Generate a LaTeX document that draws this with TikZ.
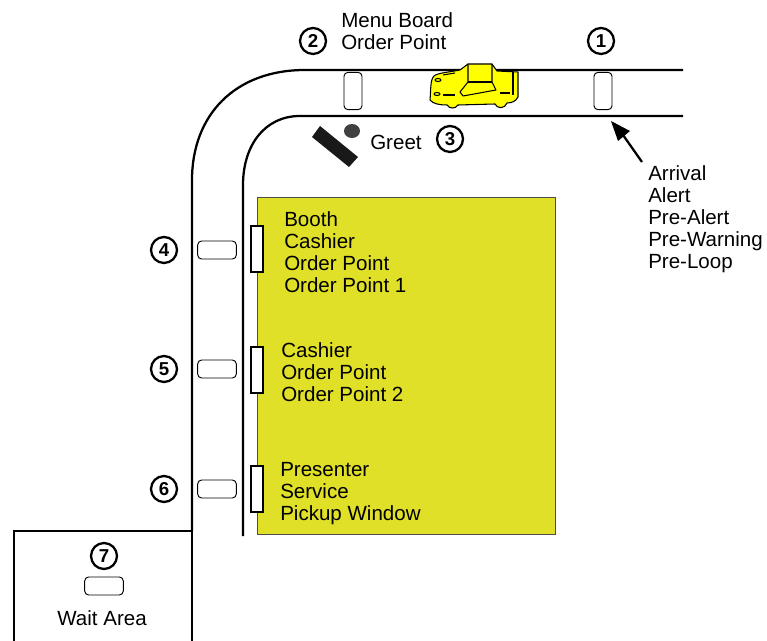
\documentclass[tikz,border=0pt]{standalone}
\usepackage{fontspec}
\setmainfont{Liberation Sans}
\definecolor{booth}{RGB}{224,224,40}
\definecolor{caryellow}{RGB}{255,255,0}
\tikzset{
  x=0.75pt,y=-0.75pt,
  road/.style={line width=1.7pt,black},
  loopv/.style={draw=black,line width=0.7pt,fill=white,rounded corners=3pt,minimum width=13.5pt,minimum height=28pt,inner sep=0pt},
  looph/.style={draw=black,line width=0.7pt,fill=white,rounded corners=3pt,minimum width=29pt,minimum height=13.5pt,inner sep=0pt},
  window/.style={draw=black,line width=1.6pt,fill=white,minimum width=9.5pt,minimum height=35pt,inner sep=0pt},
  num/.style={circle,draw=black,line width=1.7pt,fill=white,minimum size=19.5pt,inner sep=0pt,font=\fontsize{14}{14}\selectfont\bfseries},
  lab/.style={anchor=north west,inner sep=0pt,align=left,font=\fontsize{15.4}{16.5}\selectfont},
  labc/.style={inner sep=0pt,font=\fontsize{15.4}{16.5}\selectfont},
  carline/.style={line width=0.8pt,draw=black,line join=round}
}
\begin{document}
\begin{tikzpicture}
\useasboundingbox (0,0) rectangle (767,641);
\fill[white] (0,0) rectangle (767,641);
% booth
\node[draw=black!70,line width=0.5pt,fill=booth,minimum width=223.5pt,minimum height=253pt,inner sep=0pt,anchor=north west] (booth) at (257,197) {};
% roads
\coordinate (outerstart) at (683,70);
\coordinate (outerend) at (192,531);
\coordinate (innerstart) at (683,116);
\coordinate (innerend) at (243,536);
\draw[road] (outerstart) -- (305,70) .. controls (235,70) and (192,115) .. (192,180) -- (outerend);
\draw[road] (innerstart) -- (300,116) .. controls (265,116) and (243,145) .. (243,185) -- (innerend);
% wait box
\draw[road] (14,641) -- (14,531) -- (192,531) -- (192,641);
% loops
\node[loopv] (l1) at (603,91) {};
\node[loopv] (l2) at (353,91) {};
\node[looph] (l4) at (217,250) {};
\node[looph] (l5) at (217,369) {};
\node[looph] (l6) at (217,489) {};
\node[looph] (l7) at (104,586) {};
% windows
\node[window] (w4) at (257,249) {};
\node[window] (w5) at (257,370) {};
\node[window] (w6) at (257,489) {};
% numbers
\node[num] (n1) at (601,41) {1};
\node[num] (n2) at (313,41) {2};
\node[num] (n3) at (450,139) {3};
\node[num] (n4) at (164,250) {4};
\node[num] (n5) at (164,369) {5};
\node[num] (n6) at (164,489) {6};
\node[num] (n7) at (104,556) {7};
% greet
\fill[black!90] (312,137) -- (320,126) -- (358,157) -- (349,167) -- cycle;
\fill[black!75] (352,131) ellipse (8 and 7);
\node[labc,anchor=west] (greet) at (370,142) {Greet};
% labels
\node[lab] (menu) at (341,12) {Menu Board\\Order Point};
\node[lab] (arr) at (648,165) {Arrival\\Alert\\Pre-Alert\\Pre-Warning\\Pre-Loop};
\node[lab] (b4) at (284,211) {Booth\\Cashier\\Order Point\\Order Point 1};
\node[lab] (b5) at (281,342) {Cashier\\Order Point\\Order Point 2};
\node[lab] (b6) at (280,462) {Presenter\\Service\\Pickup Window};
\node[labc] (wait) at (102,618) {Wait Area};
% arrow
\coordinate (arrowtail) at (642,162);
\coordinate (arrowhead) at (611,121);
\fill[black] (arrowhead) -- (630,131) -- (618,141) -- cycle;
\draw[line width=1.7pt] (arrowtail) -- (623,135);
% car
\filldraw[fill=caryellow,carline] (430,100) .. controls (431,90) and (430,80) .. (434,76)
 .. controls (437,73) and (450,72) .. (460,70) -- (468,64) -- (492,64) -- (497,71) -- (518,72) -- (518,97)
 .. controls (516,101) and (512,103) .. (507,103)
 .. controls (505,109) and (497,109) .. (495,104) -- (458,105)
 .. controls (456,109) and (449,109) .. (447,105) .. controls (440,105) and (433,104) .. (430,100) -- cycle;
\draw[carline] (468,64) -- (468,82) -- (460,92) -- (463,96) -- (496,90) -- (492,82) -- (492,64);
\draw[carline] (468,82) -- (492,82);
\draw[carline,line width=1.2pt] (500,93) -- (510,93);
\draw[carline] (513,72) -- (513,95);
\draw[carline] (443,75) -- (455,73);
\draw[carline] (443,95) -- (455,95);
\draw[carline] (438,80) ellipse (3 and 1.5);
\draw[carline] (437,94) ellipse (3 and 1.5);
\end{tikzpicture}
\end{document}
